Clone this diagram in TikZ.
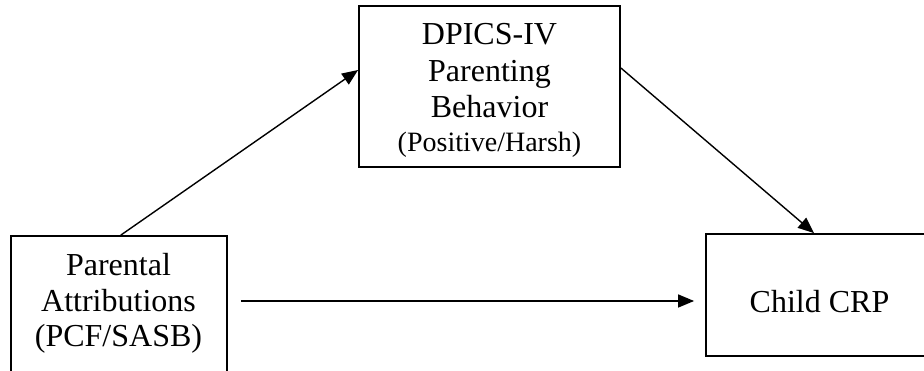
\documentclass[tikz,border=0pt]{standalone}
\usepackage{fontspec}
\setmainfont{Liberation Serif}
\usetikzlibrary{arrows.meta,calc}
\begin{document}
\begin{tikzpicture}[x=1pt,y=1pt,
  box/.style={draw, line width=1.8pt, inner sep=0pt, rectangle},
  txt/.style={anchor=base, inner sep=0pt, font=\fontsize{32}{38}\selectfont},
  smalltxt/.style={anchor=base, inner sep=0pt, font=\fontsize{28}{34}\selectfont},
  arr/.style={line width=1.4pt, -{Triangle[length=16pt,width=13pt]}}]
\clip (0,0) rectangle (924,371);
\fill[white] (0,0) rectangle (924,371);
% boxes
\node[box, minimum width=216.3pt, minimum height=139pt] (left) at (118.85,65.5) {};
\node[box, minimum width=261pt, minimum height=161pt] (top) at (489.5,284.5) {};
\node[box, minimum width=227pt, minimum height=122pt] (child) at (819.5,76) {};
% texts
\node[txt] (l1) at (118.5,95) {Parental};
\node[txt] (l2) at (118.5,59) {Attributions};
\node[txt] (l3) at (118.5,24) {(PCF/SASB)};
\node[txt] (t1) at (489.5,326) {DPICS-IV};
\node[txt] (t2) at (489.5,289.5) {Parenting};
\node[txt] (t3) at (489.5,253) {Behavior};
\node[smalltxt] (t4) at (489.5,219) {(Positive/Harsh)};
\node[txt] (c1) at (819.5,58) {Child CRP};
% arrows
\draw[arr] ([xshift=2pt]left.north) -- ([yshift=16.5pt]top.west);
\draw[arr] ([yshift=18.5pt]top.east) -- ([xshift=-5.5pt]child.north);
\draw[arr] ($(left.east)+(13,4.5)$) -- ($(child.west)+(-11,-6)$);
\end{tikzpicture}
\end{document}
